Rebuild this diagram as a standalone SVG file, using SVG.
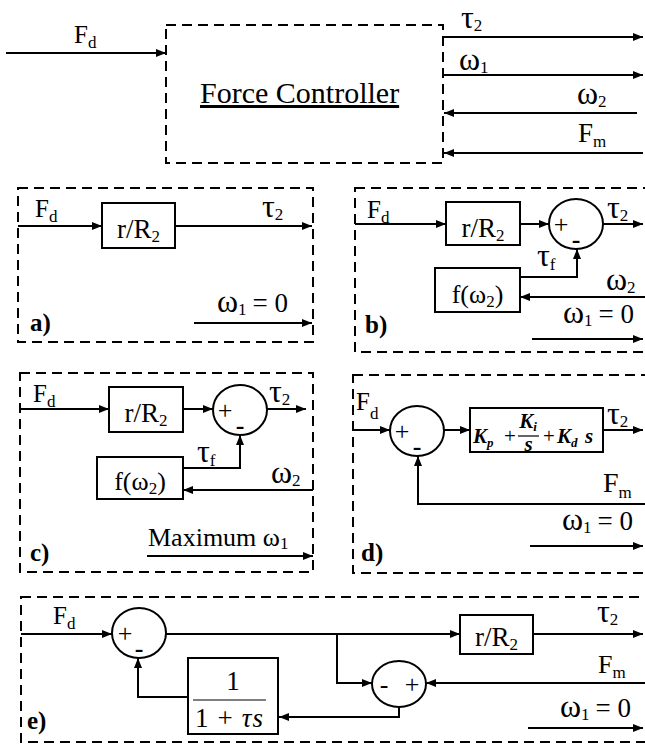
<svg xmlns="http://www.w3.org/2000/svg" width="645" height="745" viewBox="0 0 645 745" font-family="'Liberation Serif', 'DejaVu Serif', serif">
<defs>
<style>
text{font-family:'Liberation Serif','DejaVu Serif',serif;fill:#000}
.l{font-size:25px}
.g{font-size:32px}
.s{font-size:17px}
.tag{font-size:25px;font-weight:bold}
.ln{stroke:#000;stroke-width:2;fill:none}
.ar{marker-end:url(#ah)}
.dash{stroke:#000;stroke-width:2;fill:none;stroke-dasharray:10 6}
.blk{fill:#fff;stroke:#000;stroke-width:2}
.pm{font-size:26px}
.mi{font-size:21px;font-weight:bold;font-style:italic}
.mp{font-size:21px}
.ms{font-size:13px;font-weight:bold;font-style:italic}
</style>
<marker id="ah" viewBox="0 0 10 8" markerWidth="10" markerHeight="8" refX="10" refY="4" orient="auto" markerUnits="userSpaceOnUse">
<path d="M0,0 L10,4 L0,8 z" fill="#000"/>
</marker>
</defs>
<rect width="645" height="745" fill="#fff"/>

<!-- Top: Force Controller -->
<g id="force-controller">
<rect class="dash" x="166" y="25" width="277" height="138"/>
<text x="200" y="103" style="font-size:30px" text-decoration="underline">Force Controller</text>
<text class="l" x="74" y="43">F<tspan class="s" dy="5">d</tspan></text>
<text class="g" x="461" y="28">τ<tspan class="s" dy="3">2</tspan></text>
<text class="g" x="459" y="70">ω<tspan class="s" dy="3">1</tspan></text>
<text class="g" x="577" y="104">ω<tspan class="s" dy="3">2</tspan></text>
<text class="l" x="578" y="142" style="font-size:27px">F<tspan class="s" dy="5">m</tspan></text>
</g>

<!-- a) -->
<g id="panel-a">
<rect class="dash" x="18" y="188" width="295" height="154"/>
<rect class="blk" x="102" y="203" width="73" height="45"/>
<text class="l" x="138.5" y="238" text-anchor="middle" style="font-size:27px">r/R<tspan class="s" dy="4">2</tspan></text>
<text class="l" x="35" y="217">F<tspan class="s" dy="5">d</tspan></text>
<text class="g" x="262" y="217">τ<tspan class="s" dy="3">2</tspan></text>
<text class="g" x="217" y="312">ω<tspan class="s" dy="3">1</tspan><tspan dy="-3" dx="6" style="font-size:27px">= 0</tspan></text>
<text class="tag" x="30" y="331">a)</text>
</g>

<!-- b) -->
<g id="panel-b">
<rect class="dash" x="355" y="188" width="310" height="164"/>
<rect class="blk" x="446" y="202" width="74" height="43"/>
<text class="l" x="483" y="237" text-anchor="middle" style="font-size:27px">r/R<tspan class="s" dy="4">2</tspan></text>
<ellipse class="blk" cx="576" cy="224" rx="27" ry="25"/>
<text class="pm" x="561" y="233" text-anchor="middle">+</text>
<text class="pm" x="576" y="248" text-anchor="middle" style="font-weight:bold">-</text>
<rect class="blk" x="435" y="268" width="85" height="44"/>
<text class="l" x="477.5" y="303" text-anchor="middle" style="font-size:26px">f(ω<tspan class="s" dy="4">2</tspan><tspan dy="-4">)</tspan></text>
<text class="l" x="367" y="218">F<tspan class="s" dy="5">d</tspan></text>
<text class="g" x="607" y="218">τ<tspan class="s" dy="3">2</tspan></text>
<text class="g" x="537" y="266">τ<tspan class="s" dy="4">f</tspan></text>
<text class="g" x="606" y="290">ω<tspan class="s" dy="3">2</tspan></text>
<text class="g" x="563" y="323">ω<tspan class="s" dy="3">1</tspan><tspan dy="-3" dx="6" style="font-size:27px">= 0</tspan></text>
<text class="tag" x="365" y="333">b)</text>
</g>

<!-- c) -->
<g id="panel-c">
<rect class="dash" x="20" y="373" width="293" height="199"/>
<rect class="blk" x="109" y="387" width="74" height="45"/>
<text class="l" x="146" y="422" text-anchor="middle" style="font-size:27px">r/R<tspan class="s" dy="4">2</tspan></text>
<ellipse class="blk" cx="240" cy="410" rx="27" ry="25"/>
<text class="pm" x="225" y="419" text-anchor="middle">+</text>
<text class="pm" x="240" y="434" text-anchor="middle" style="font-weight:bold">-</text>
<rect class="blk" x="97" y="457" width="86" height="42"/>
<text class="l" x="140" y="490" text-anchor="middle" style="font-size:26px">f(ω<tspan class="s" dy="4">2</tspan><tspan dy="-4">)</tspan></text>
<text class="l" x="33" y="402">F<tspan class="s" dy="5">d</tspan></text>
<text class="g" x="269" y="402">τ<tspan class="s" dy="3">2</tspan></text>
<text class="g" x="197" y="462">τ<tspan class="s" dy="4">f</tspan></text>
<text class="g" x="271" y="483">ω<tspan class="s" dy="3">2</tspan></text>
<text class="l" x="148" y="546" style="font-size:26px">Maximum ω<tspan class="s" dy="3">1</tspan></text>
<text class="tag" x="30" y="561">c)</text>
</g>

<!-- d) -->
<g id="panel-d">
<rect class="dash" x="353" y="375" width="310" height="198"/>
<ellipse class="blk" cx="417" cy="431" rx="27" ry="25"/>
<text class="pm" x="402" y="440" text-anchor="middle">+</text>
<text class="pm" x="417" y="455" text-anchor="middle" style="font-weight:bold">-</text>
<rect class="blk" x="470" y="408" width="133" height="44"/>
<text x="473" y="443"><tspan class="mi">K</tspan><tspan class="ms" dy="4">p</tspan></text>
<text class="mp" x="510" y="443" text-anchor="middle">+</text>
<text x="528" y="428" text-anchor="middle"><tspan class="mi">K</tspan><tspan class="ms" dy="3">i</tspan></text>
<line x1="518" y1="436" x2="539" y2="436" stroke="#000" stroke-width="1.2"/>
<text class="mi" x="528.5" y="451" text-anchor="middle">s</text>
<text class="mp" x="549" y="443" text-anchor="middle">+</text>
<text x="557" y="443"><tspan class="mi">K</tspan><tspan class="ms" dy="4">d</tspan><tspan class="mi" dy="-4" x="585">s</tspan></text>
<text class="l" x="356" y="410">F<tspan class="s" dy="9">d</tspan></text>
<text class="g" x="607" y="424">τ<tspan class="s" dy="3">2</tspan></text>
<text class="l" x="603" y="492" style="font-size:28px">F<tspan class="s" dy="6">m</tspan></text>
<text class="g" x="562" y="530">ω<tspan class="s" dy="3">1</tspan><tspan dy="-3" dx="6" style="font-size:27px">= 0</tspan></text>
<text class="tag" x="361" y="561">d)</text>
</g>

<!-- e) -->
<g id="panel-e">
<rect class="dash" x="21" y="597" width="640" height="145"/>
<ellipse class="blk" cx="139" cy="633" rx="27" ry="25"/>
<text class="pm" x="125" y="642" text-anchor="middle">+</text>
<text class="pm" x="139" y="657" text-anchor="middle" style="font-weight:bold">-</text>
<rect class="blk" x="460" y="615" width="73" height="39"/>
<text class="l" x="496.5" y="646" text-anchor="middle" style="font-size:27px">r/R<tspan class="s" dy="4">2</tspan></text>
<ellipse class="blk" cx="399" cy="684" rx="27" ry="23"/>
<text class="pm" x="384" y="693" text-anchor="middle">-</text>
<text class="pm" x="412" y="693" text-anchor="middle">+</text>
<rect class="blk" x="188" y="658" width="90" height="76"/>
<text class="l" x="233" y="690" text-anchor="middle" style="font-size:27px">1</text>
<line x1="193" y1="700" x2="266" y2="700" stroke="#000" stroke-width="1.2"/>
<text class="l" x="195" y="727" style="font-size:27px" textLength="68" lengthAdjust="spacing">1 + <tspan font-style="italic">τs</tspan></text>
<text class="l" x="53" y="624">F<tspan class="s" dy="5">d</tspan></text>
<text class="g" x="597" y="622">τ<tspan class="s" dy="3">2</tspan></text>
<text class="l" x="598" y="673" style="font-size:26px">F<tspan class="s" dy="5">m</tspan></text>
<text class="g" x="560" y="717">ω<tspan class="s" dy="3">1</tspan><tspan dy="-3" dx="6" style="font-size:27px">= 0</tspan></text>
<text class="tag" x="27" y="729">e)</text>
</g>

<!-- connectors -->
<g id="connectors">
<line class="ln ar" x1="6" y1="53" x2="166" y2="53"/>
<line class="ln ar" x1="443" y1="37" x2="643" y2="37"/>
<line class="ln ar" x1="443" y1="75" x2="643" y2="75"/>
<line class="ln ar" x1="637" y1="113" x2="444" y2="113"/>
<line class="ln ar" x1="643" y1="153" x2="444" y2="153"/>

<line class="ln ar" x1="18" y1="226" x2="102" y2="226"/>
<line class="ln ar" x1="175" y1="226" x2="312" y2="226"/>
<line class="ln ar" x1="194" y1="323" x2="312" y2="323"/>

<line class="ln ar" x1="355" y1="224" x2="446" y2="224"/>
<line class="ln ar" x1="520" y1="224" x2="549" y2="224"/>
<line class="ln ar" x1="603" y1="224" x2="643" y2="224"/>
<path class="ln ar" d="M520,277 H577 V249"/>
<line class="ln ar" x1="645" y1="297" x2="520" y2="297"/>
<line class="ln ar" x1="532" y1="339" x2="643" y2="339"/>

<line class="ln ar" x1="20" y1="409" x2="109" y2="409"/>
<line class="ln ar" x1="183" y1="409" x2="213" y2="409"/>
<line class="ln ar" x1="267" y1="409" x2="306" y2="409"/>
<path class="ln ar" d="M183,468 H240 V435"/>
<line class="ln ar" x1="313" y1="490" x2="183" y2="490"/>
<line class="ln ar" x1="147" y1="556" x2="313" y2="556"/>

<line class="ln ar" x1="353" y1="430" x2="390" y2="430"/>
<line class="ln ar" x1="444" y1="430" x2="470" y2="430"/>
<line class="ln ar" x1="603" y1="430" x2="643" y2="430"/>
<path class="ln ar" d="M645,504 H418 V456"/>
<line class="ln ar" x1="530" y1="546" x2="643" y2="546"/>

<line class="ln ar" x1="21" y1="634" x2="112" y2="634"/>
<line class="ln ar" x1="166" y1="634" x2="460" y2="634"/>
<line class="ln ar" x1="533" y1="634" x2="643" y2="634"/>
<path class="ln ar" d="M337,634 V683 H372"/>
<line class="ln ar" x1="645" y1="683" x2="426" y2="683"/>
<path class="ln ar" d="M399,707 V717 H279"/>
<path class="ln ar" d="M188,697 H138 V658"/>
<line class="ln ar" x1="528" y1="728" x2="643" y2="728"/>
</g>
</svg>
